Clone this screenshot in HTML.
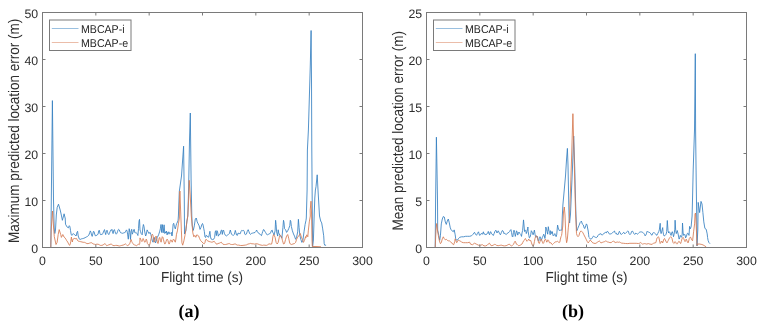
<!DOCTYPE html>
<html><head><meta charset="utf-8"><style>
html,body{margin:0;padding:0;background:#fff;width:761px;height:323px;overflow:hidden}
svg{display:block;will-change:transform}
text{font-family:"Liberation Sans",sans-serif;fill:#2e2e2e;text-rendering:geometricPrecision}
.tl{font-size:12.3px}
.al{font-size:13.55px}
.yl{font-size:13.5px}
.lg{font-size:10.6px;fill:#1e1e1e}
.sub{font-family:"Liberation Serif",serif;font-weight:bold;font-size:18px;fill:#000}
</style></head><body>
<svg width="761" height="323" viewBox="0 0 761 323">
<polyline points="50.8,247.5 51.3,200.0 52.4,100.6 53.5,200.0 54.2,228.0 54.8,233.5 55.5,230.0 56.3,215.0 57.2,207.4 58.5,204.2 60.2,210.0 61.1,214.0 62.4,220.3 64.1,213.8 65.1,218.0 65.2,218.0 65.5,224.2 66.5,226.0 67.4,227.3 68.3,227.9 69.3,225.7 69.9,226.7 70.5,230.4 71.1,234.1 71.7,235.3 72.7,234.7 73.3,233.5 74.2,234.4 75.1,235.0 76.1,236.0 77.0,232.2 77.6,231.3 78.2,236.0 78.6,237.0 79.2,238.9 80.1,239.5 81.3,238.9 82.6,238.6 83.8,238.3 85.1,237.7 86.3,237.0 87.5,236.4 88.8,235.2 89.7,232.7 90.3,230.9 90.9,232.1 91.6,235.2 92.2,236.4 92.8,234.0 93.4,231.5 94.0,231.5 94.7,234.0 95.3,235.8 96.2,235.5 97.1,235.2 98.1,234.0 98.7,230.9 99.3,230.2 99.9,233.3 100.5,234.6 101.8,234.3 102.0,234.6 102.9,233.3 103.9,230.8 104.5,229.6 105.1,232.4 105.7,234.6 106.3,231.8 107.0,230.2 107.6,232.4 108.2,233.9 108.8,234.6 109.4,233.3 110.0,231.8 110.7,230.2 111.3,230.5 111.9,229.3 112.5,231.8 113.1,233.6 113.8,230.2 114.4,229.6 115.0,231.5 115.6,233.3 116.2,234.2 116.9,233.3 117.5,231.8 118.1,229.9 118.7,229.3 119.3,229.9 120.0,231.8 120.6,232.7 121.5,233.0 122.4,233.3 123.4,233.0 124.3,232.7 125.2,232.4 125.8,231.1 126.5,229.9 127.1,231.1 127.7,234.9 128.3,239.2 128.9,232.4 129.2,228.7 129.9,232.4 130.5,239.5 131.1,231.1 131.7,229.3 132.3,234.2 133.0,232.4 133.6,229.9 134.2,229.3 134.8,232.4 135.4,233.0 136.1,232.4 136.7,233.3 137.3,234.2 137.9,235.5 138.5,228.7 139.0,221.2 139.5,219.4 140.0,229.9 140.6,231.7 141.2,233.6 142.2,234.8 142.8,228.0 143.4,224.5 144.0,226.5 144.6,231.0 145.6,236.0 146.2,234.8 147.1,229.9 148.0,231.7 149.0,233.6 149.9,232.3 150.8,234.2 151.8,238.5 152.4,241.0 153.0,242.2 153.6,240.4 154.2,237.3 154.9,240.4 155.5,242.9 156.1,241.6 156.7,239.1 157.3,237.3 158.0,236.0 158.6,234.8 159.2,233.0 159.8,231.1 160.4,228.5 161.0,224.5 161.7,232.5 162.4,224.6 163.2,232.8 164.1,224.8 164.8,233.5 165.3,231.8 165.9,233.0 166.5,231.1 167.1,234.9 167.8,232.4 168.4,231.8 169.0,234.2 169.6,232.4 170.6,233.3 171.5,232.4 171.6,235.4 172.2,236.0 172.6,231.0 173.1,224.5 173.7,223.3 174.4,226.4 175.3,228.9 176.2,225.1 176.8,223.3 177.5,222.0 178.1,220.2 178.4,216.0 179.3,191.5 181.5,176.0 183.6,146.2 184.3,200.0 184.5,234.0 185.9,230.9 186.9,221.0 187.8,216.0 188.6,190.0 189.5,140.0 190.3,113.0 191.1,180.0 191.8,216.0 192.3,225.9 193.3,230.4 194.3,225.9 195.3,219.0 196.3,218.0 197.2,221.9 198.2,223.9 199.2,225.9 200.0,229.4 200.9,227.6 201.9,224.5 202.5,223.5 203.1,225.1 203.7,228.2 204.3,231.3 205.0,236.9 205.6,237.5 206.2,235.3 206.8,235.6 207.7,236.9 208.7,237.2 209.3,234.4 209.9,231.3 210.5,236.9 211.1,239.0 212.4,239.6 213.6,239.3 214.6,237.5 215.2,231.9 215.8,230.7 216.4,235.6 217.0,230.7 217.6,231.9 218.3,236.2 219.2,234.4 220.1,234.4 221.1,230.4 221.7,230.0 222.3,234.4 222.9,230.7 223.5,230.0 224.5,233.8 225.4,235.3 226.6,235.9 227.6,235.0 228.5,234.4 229.4,233.5 230.3,230.0 231.0,232.5 231.6,234.4 232.5,235.0 233.4,235.3 234.4,234.4 235.3,230.4 235.9,232.5 236.5,235.0 237.5,235.3 238.0,233.1 239.2,233.5 240.2,233.8 241.1,231.3 241.7,230.4 242.6,230.7 243.6,230.4 244.2,231.3 244.8,234.1 245.4,234.7 246.4,234.1 247.3,231.3 248.2,229.7 248.8,231.3 249.8,233.8 250.4,234.4 251.3,233.5 252.6,233.1 253.8,232.8 255.0,232.5 256.0,231.3 256.6,230.0 257.2,231.3 258.1,232.8 259.1,233.5 260.0,234.1 260.9,235.3 261.5,235.6 262.1,233.5 262.8,231.3 263.4,229.7 264.0,229.7 264.6,231.0 265.6,232.5 266.5,234.1 267.4,235.0 268.3,234.4 269.3,233.8 270.2,233.5 270.8,232.2 271.4,230.7 272.1,230.0 272.7,232.2 273.6,233.8 274.0,235.1 275.1,230.8 275.6,220.3 276.1,224.5 276.6,231.9 277.7,236.1 278.2,229.8 278.7,232.9 279.8,235.1 280.8,236.6 281.9,238.2 282.9,227.7 283.5,220.3 284.0,222.4 284.5,228.7 285.6,229.8 286.6,232.4 287.7,230.8 288.7,228.7 289.8,225.6 290.3,220.3 290.8,221.4 291.4,226.6 292.4,230.8 293.5,234.0 294.5,236.1 295.6,239.3 296.6,237.2 297.7,231.9 298.4,219.3 299.1,227.7 299.8,235.1 300.8,239.3 301.9,242.4 302.9,240.3 304.0,231.9 305.1,224.5 306.0,220.3 306.3,218.0 307.1,190.0 307.4,150.0 308.4,130.0 310.3,65.0 311.1,30.5 311.5,80.0 311.8,150.0 312.2,200.0 312.6,246.5 313.4,240.0 314.2,215.0 314.8,198.0 315.4,190.0 316.0,186.7 317.2,174.8 318.3,195.0 319.5,216.0 320.7,221.0 321.7,222.9 322.7,228.9 323.7,235.8 324.2,243.7 324.7,245.2 326.1,245.2" fill="none" stroke="#3580c0" stroke-width="0.85" stroke-linejoin="round"/>
<polyline points="50.8,247.5 51.2,230.0 52.5,211.0 53.4,225.0 54.3,236.7 56.0,244.5 57.1,242.4 58.2,234.5 59.2,229.6 60.7,234.5 61.4,237.4 62.8,234.5 64.0,237.0 64.9,237.7 65.9,239.2 66.8,240.8 67.7,242.0 68.6,243.9 69.6,245.4 70.2,244.2 70.8,241.4 71.4,237.0 71.7,238.9 72.4,242.0 72.7,240.1 73.3,238.9 74.2,238.3 75.1,238.9 76.1,238.3 76.7,238.6 77.3,240.1 78.2,241.1 79.5,241.4 80.7,241.7 82.0,242.0 83.2,242.3 84.4,242.3 85.7,242.9 86.9,243.6 88.1,243.6 89.4,243.2 90.3,242.9 91.2,242.6 92.2,243.2 93.1,243.9 94.3,244.2 95.6,244.5 96.8,244.2 98.1,244.2 99.3,244.8 100.5,245.4 101.8,245.4 102.0,245.4 103.2,244.8 104.5,243.9 105.1,243.6 105.7,244.5 106.6,245.7 107.6,245.4 108.8,244.8 110.0,244.5 111.0,243.9 111.9,244.5 112.8,245.4 114.1,245.7 115.6,245.4 116.9,245.4 118.1,245.7 119.3,246.0 120.6,245.7 121.8,245.4 123.1,245.1 124.0,244.8 124.9,244.2 125.5,243.9 126.5,244.8 127.4,245.7 128.0,245.4 128.9,244.8 129.6,243.9 130.2,242.3 130.8,240.1 131.1,239.5 131.7,241.4 132.3,242.6 133.0,243.6 133.6,244.5 134.2,245.1 134.8,244.8 135.7,245.4 136.7,245.7 137.6,244.8 138.5,244.2 139.2,244.8 139.8,243.2 140.0,237.9 140.6,239.1 141.2,240.4 141.9,241.6 142.5,240.4 143.1,238.5 143.7,239.8 144.6,242.2 145.6,241.6 146.2,239.1 146.8,240.4 147.4,243.5 148.4,244.7 149.3,245.3 149.9,244.1 150.5,241.6 151.1,238.5 151.8,235.4 152.4,234.2 153.0,235.4 153.6,239.1 154.2,242.2 154.9,240.4 155.5,237.3 156.1,236.0 156.7,238.5 157.3,241.6 158.0,243.5 158.6,241.0 159.2,237.9 159.8,237.3 160.4,240.4 161.1,242.2 161.7,239.1 162.3,236.7 162.9,237.3 163.5,239.8 164.1,242.2 164.8,244.1 165.4,243.5 166.0,241.6 166.6,239.8 167.2,239.1 167.9,240.4 168.5,242.9 169.1,244.1 169.7,242.9 170.3,240.4 171.0,239.8 171.6,241.0 172.2,242.2 172.8,240.4 173.4,239.1 174.1,239.8 174.7,241.3 175.3,242.2 175.9,239.1 176.5,234.2 177.4,230.9 178.4,223.9 179.4,218.0 179.4,205.0 179.9,191.0 180.6,210.0 181.4,230.9 181.9,242.7 182.7,245.2 183.9,240.8 184.9,235.8 185.9,228.9 186.9,221.9 187.8,216.0 188.6,200.0 189.2,180.3 190.2,195.0 191.3,216.0 192.8,232.8 193.8,236.8 194.8,235.3 195.8,237.3 196.8,234.8 197.7,235.3 198.6,235.9 199.6,238.6 200.6,240.5 201.9,241.9 203.2,243.2 204.2,243.8 204.9,242.8 205.5,239.9 206.2,239.2 206.8,240.2 207.8,240.9 209.1,241.5 210.5,241.9 211.8,242.2 213.1,241.9 214.1,241.2 215.1,242.5 216.0,243.8 217.0,244.2 218.0,243.5 219.3,243.2 220.6,242.5 221.3,242.2 222.0,243.2 222.9,244.2 224.3,244.5 225.6,244.5 226.9,244.2 228.2,243.8 229.2,243.5 230.2,244.2 231.5,244.5 232.8,244.5 234.1,244.2 235.1,243.8 236.1,244.5 237.4,245.1 238.7,245.1 240.7,245.5 242.0,245.5 245.3,245.1 246.6,244.8 247.9,244.1 249.3,243.8 250.6,243.4 251.9,243.8 253.2,243.8 254.5,244.1 255.8,243.8 257.1,243.8 258.1,244.1 259.8,244.8 261.1,245.1 262.4,245.4 263.7,245.1 265.0,245.2 266.3,245.4 267.7,244.8 269.0,243.8 270.3,244.1 271.6,244.1 272.3,241.1 272.9,236.5 273.6,234.6 274.0,235.1 275.1,237.2 276.1,242.4 277.2,244.0 278.2,242.4 279.3,237.2 280.3,235.1 281.4,236.1 282.4,240.3 283.5,244.0 284.5,243.5 285.6,239.3 286.6,236.1 287.7,234.5 288.7,238.2 289.8,243.5 291.4,244.5 292.9,244.0 294.5,243.5 295.6,242.4 296.6,239.3 297.7,237.2 299.3,235.1 300.3,233.5 301.4,237.2 302.4,239.3 303.5,242.4 304.5,240.3 305.6,236.6 305.8,237.8 306.8,234.8 307.8,236.8 308.3,230.9 309.3,221.9 310.3,216.0 310.2,210.0 311.0,201.2 311.6,215.0 312.0,240.0 312.3,246.5 316.0,246.5 321.0,246.8" fill="none" stroke="#d67a52" stroke-width="0.85" stroke-linejoin="round"/>
<rect x="42.5" y="12.5" width="320.0" height="235.0" fill="none" stroke="#7a7a7a" stroke-width="1"/>
<text x="42.50" y="265" text-anchor="middle" class="tl">0</text>
<text x="95.83" y="265" text-anchor="middle" class="tl">50</text>
<text x="149.17" y="265" text-anchor="middle" class="tl">100</text>
<text x="202.50" y="265" text-anchor="middle" class="tl">150</text>
<text x="255.83" y="265" text-anchor="middle" class="tl">200</text>
<text x="309.17" y="265" text-anchor="middle" class="tl">250</text>
<text x="362.50" y="265" text-anchor="middle" class="tl">300</text>
<text x="38.20" y="252.60" text-anchor="end" class="tl">0</text>
<text x="38.20" y="205.60" text-anchor="end" class="tl">10</text>
<text x="38.20" y="158.60" text-anchor="end" class="tl">20</text>
<text x="38.20" y="111.60" text-anchor="end" class="tl">30</text>
<text x="38.20" y="64.60" text-anchor="end" class="tl">40</text>
<text x="38.20" y="17.60" text-anchor="end" class="tl">50</text>
<path d="M95.83 247.5v-3M95.83 12.5v3M149.17 247.5v-3M149.17 12.5v3M202.50 247.5v-3M202.50 12.5v3M255.83 247.5v-3M255.83 12.5v3M309.17 247.5v-3M309.17 12.5v3M42.5 200.50h3M362.5 200.50h-3M42.5 153.50h3M362.5 153.50h-3M42.5 106.50h3M362.5 106.50h-3M42.5 59.50h3M362.5 59.50h-3" stroke="#7a7a7a" stroke-width="1" fill="none"/>
<text transform="translate(202.00,282.3) scale(1,1.07)" text-anchor="middle" class="al">Flight time (s)</text>
<text transform="translate(18.60,130.80) rotate(-90) scale(1,1.13)" text-anchor="middle" class="yl">Maximum predicted location error (m)</text>
<text x="189.00" y="317.3" text-anchor="middle" class="sub">(a)</text>
<rect x="49.5" y="20" width="81.5" height="30.5" fill="#fff" stroke="#7a7a7a" stroke-width="1"/>
<line x1="51.8" y1="28.5" x2="78.5" y2="28.5" stroke="#3580c0" stroke-width="0.5"/>
<line x1="51.8" y1="42.5" x2="78.5" y2="42.5" stroke="#d67a52" stroke-width="0.5"/>
<text transform="translate(81.0,32.5) scale(1,1.07)" class="lg">MBCAP-i</text>
<text transform="translate(81.0,46.6) scale(1,1.07)" class="lg">MBCAP-e</text>
<polyline points="435.2,247.5 435.6,200.0 436.0,170.0 436.4,137.2 437.0,170.0 437.5,200.0 437.7,230.0 438.9,235.8 439.7,240.3 440.4,235.8 441.3,223.9 442.3,219.0 443.3,216.5 444.3,217.0 445.3,221.9 446.3,224.4 447.3,221.0 448.3,219.0 449.3,222.9 450.3,227.9 451.2,229.9 452.2,230.9 453.2,231.8 454.2,229.9 455.2,234.8 455.7,238.8 456.7,240.3 457.7,239.8 458.7,238.3 459.7,237.3 461.6,236.8 463.6,236.8 465.6,236.3 467.6,236.3 469.6,236.3 471.5,235.8 473.0,234.3 474.5,232.3 475.5,234.3 476.5,235.3 477.5,233.3 478.5,231.8 479.5,235.3 480.5,234.8 481.4,233.3 482.4,234.3 483.4,231.8 484.0,234.2 484.9,233.9 485.9,234.8 486.8,234.2 487.7,232.7 488.3,231.4 489.0,233.9 489.6,234.8 490.2,232.0 490.8,231.7 491.4,233.6 492.0,233.9 492.7,234.8 493.3,235.5 494.2,233.3 495.1,231.1 495.8,230.2 496.4,231.1 497.0,233.0 497.6,231.7 498.2,230.8 498.9,232.0 499.5,233.6 500.4,234.8 501.3,232.7 502.3,230.5 502.9,230.8 503.5,232.0 504.1,233.9 504.7,233.3 505.4,233.9 506.3,234.5 507.2,233.3 508.1,233.0 509.1,232.0 509.7,231.4 510.3,230.2 510.9,229.6 511.6,232.7 512.2,236.4 512.8,237.0 513.4,232.7 514.0,230.2 514.7,232.7 515.3,236.4 515.9,233.9 516.5,230.8 517.1,232.0 517.7,235.1 518.4,233.3 519.0,232.0 519.6,233.3 520.2,233.9 520.8,234.5 521.5,236.4 522.0,233.0 522.6,230.5 523.2,224.0 523.5,219.9 524.0,225.0 524.5,231.5 525.1,229.9 525.7,230.5 526.3,233.6 526.9,231.7 527.6,228.5 527.9,227.0 528.2,231.7 528.8,235.4 529.4,237.9 530.0,237.3 530.7,234.8 531.3,230.7 531.9,231.7 532.5,233.0 533.1,234.8 533.8,232.3 534.4,230.1 535.0,234.2 535.6,236.7 536.2,237.3 536.9,236.0 537.5,236.7 538.1,240.4 538.7,241.0 539.3,238.5 540.0,236.7 540.6,237.9 541.2,240.4 541.8,239.1 542.4,237.3 543.1,236.0 543.7,234.2 544.3,235.4 544.9,238.5 545.5,234.2 545.8,227.0 546.5,229.2 547.1,231.7 547.7,234.2 548.3,226.7 549.0,231.1 549.6,231.7 550.2,234.8 550.5,230.7 551.1,231.7 551.7,233.6 552.3,231.6 553.0,235.4 553.6,236.0 554.2,234.8 554.8,233.6 555.4,234.8 556.1,236.7 556.7,234.8 557.3,228.0 557.6,225.1 558.2,228.0 559.2,230.5 560.4,230.2 561.8,230.2 562.3,216.0 562.9,205.0 565.5,176.0 566.5,160.0 567.4,148.4 568.0,165.0 568.7,200.0 569.0,216.0 569.6,223.0 570.5,214.0 571.5,190.0 572.4,170.0 573.7,136.0 574.8,170.0 575.5,200.0 576.0,216.0 576.7,230.9 577.7,228.9 577.7,228.6 579.0,225.5 580.2,222.4 581.4,221.1 582.4,224.2 583.3,224.9 584.2,228.0 584.8,228.6 585.8,225.5 586.4,223.9 587.0,224.9 587.6,228.0 588.2,231.0 588.6,234.2 588.9,237.3 589.5,237.9 590.1,238.8 590.7,239.1 591.6,238.8 592.6,237.3 593.5,236.0 594.4,236.7 595.4,237.3 596.3,237.6 597.2,237.0 598.1,235.4 599.1,234.2 600.0,234.2 600.9,233.6 601.6,234.8 602.5,234.8 603.4,234.2 604.3,233.0 605.3,232.3 606.2,233.0 606.8,231.7 607.7,231.4 608.7,233.0 609.6,234.2 610.5,233.9 611.5,233.6 612.4,233.0 613.6,231.7 613.9,231.3 613.9,231.3 614.5,231.0 615.1,232.8 615.7,233.5 616.3,233.1 617.0,234.4 617.6,235.0 618.2,234.1 618.8,232.5 619.4,231.3 620.0,232.5 620.7,234.1 621.3,234.4 621.9,234.1 622.5,233.5 623.1,232.8 623.8,232.2 624.4,233.5 625.0,233.8 625.6,233.1 626.2,232.5 627.2,231.6 627.8,231.0 628.4,231.3 629.0,233.5 629.6,234.4 630.3,234.4 630.9,233.5 631.5,231.9 632.1,231.0 632.7,231.3 633.4,232.5 634.0,233.8 634.6,234.4 635.2,234.1 635.8,233.1 636.5,233.5 637.1,234.1 637.7,234.1 638.3,233.5 638.9,232.8 639.6,232.2 640.5,231.9 641.4,231.9 642.3,232.2 643.3,232.8 643.9,233.5 644.5,234.4 645.1,235.9 645.7,235.3 646.4,233.8 647.0,231.6 647.6,231.0 648.2,231.9 648.8,232.5 649.5,232.5 650.1,232.8 650.7,233.8 651.3,234.7 652.0,235.3 652.5,233.8 652.8,233.0 653.7,232.6 654.6,233.0 655.6,233.9 656.2,234.8 656.8,235.4 657.7,233.6 658.7,231.7 659.3,229.9 660.2,223.3 660.5,231.1 661.1,233.6 661.8,231.1 662.7,227.6 663.0,231.7 663.6,234.8 664.2,236.0 665.2,235.4 666.1,234.2 666.7,231.7 667.3,220.5 668.0,230.5 668.6,233.0 669.2,231.7 669.8,232.3 670.4,234.2 671.1,235.4 671.7,233.0 672.3,231.7 672.9,233.6 673.5,236.7 674.1,234.2 674.8,229.2 675.1,220.2 675.7,230.5 676.3,233.6 676.9,231.7 677.2,230.5 677.9,233.0 678.5,236.0 679.1,239.1 679.7,237.9 680.3,235.4 681.0,236.7 681.6,237.3 682.2,234.2 682.5,223.0 683.1,233.0 683.7,235.4 684.4,234.2 685.0,234.8 685.6,237.9 686.5,236.0 687.2,233.6 687.8,233.0 688.4,234.2 689.0,235.4 689.6,226.4 690.2,228.9 691.1,226.9 692.1,216.0 692.5,200.0 693.2,170.0 694.5,130.0 695.3,53.7 695.6,130.0 696.2,180.0 696.7,216.0 697.0,246.0 697.8,230.0 698.2,202.4 699.6,212.6 701.0,201.4 702.0,204.0 702.9,212.6 703.8,221.9 704.9,228.4 706.2,229.3 707.2,233.9 707.6,237.6 708.1,240.4 709.0,242.7 710.0,243.7" fill="none" stroke="#3580c0" stroke-width="0.85" stroke-linejoin="round"/>
<polyline points="435.2,247.5 436.0,230.0 436.7,223.5 437.4,230.0 438.4,235.8 439.4,240.8 440.4,243.7 441.3,242.7 442.3,238.8 443.3,236.8 444.3,238.8 445.3,239.8 446.3,239.3 447.3,240.3 448.3,240.8 449.3,240.8 450.3,241.7 451.7,242.7 452.7,244.2 453.7,244.7 454.7,241.7 455.2,238.8 455.7,240.3 456.7,242.7 457.7,240.8 458.7,240.3 459.7,240.8 460.7,241.2 461.6,242.2 463.6,242.7 465.6,242.7 467.6,242.7 469.6,242.2 470.6,244.2 472.5,244.7 474.5,243.2 476.5,244.2 478.5,245.2 480.5,245.2 482.4,244.7 484.0,245.9 485.6,245.9 487.2,245.2 488.2,244.1 489.3,243.1 490.1,244.1 490.8,245.4 491.9,245.7 493.2,245.2 494.5,244.4 495.6,244.6 496.6,245.4 498.2,245.7 499.8,245.4 500.8,245.2 501.9,245.2 502.9,245.7 504.5,245.9 506.1,245.7 507.2,245.2 508.2,244.6 509.3,244.1 510.3,245.2 511.4,245.9 512.4,245.4 513.5,244.4 514.3,242.5 515.1,241.2 515.6,242.0 516.4,244.1 517.2,244.4 517.9,245.2 518.7,245.7 519.8,245.4 520.8,244.9 521.9,244.1 522.0,244.1 522.9,242.2 523.9,240.4 524.8,239.5 525.4,238.5 526.0,239.8 527.0,241.3 527.9,240.4 528.8,239.1 529.4,240.4 530.0,241.0 530.7,240.4 531.3,242.2 531.9,244.1 532.5,245.3 533.1,246.0 533.8,244.7 534.4,241.6 535.0,238.5 535.6,236.7 536.2,235.7 536.9,236.0 537.5,237.9 538.1,240.4 538.7,242.9 539.3,243.5 540.0,241.6 540.6,239.8 541.2,239.1 541.8,240.4 542.4,242.2 543.1,243.5 543.7,242.9 544.3,241.0 544.9,239.8 545.5,239.1 546.1,240.4 546.8,242.2 547.4,241.0 548.0,239.8 548.6,240.4 549.2,242.2 549.9,243.2 550.5,242.6 551.1,242.9 551.7,244.1 552.3,244.7 553.0,244.1 553.6,243.5 554.2,242.9 554.8,242.2 555.4,241.9 556.1,241.9 556.7,241.6 557.3,241.3 557.9,241.6 558.5,242.2 559.2,242.6 559.8,242.2 560.4,239.1 561.0,236.7 561.6,235.4 561.8,233.8 562.8,225.9 563.5,212.0 564.3,207.0 565.0,215.0 565.8,235.8 566.6,242.7 567.3,239.8 568.3,227.9 569.5,216.0 570.5,190.0 571.5,160.0 572.9,113.7 574.2,160.0 575.2,200.0 575.7,216.0 576.5,233.6 577.1,235.4 578.0,236.7 579.0,235.4 579.9,232.3 580.8,231.1 581.7,231.4 582.7,232.3 583.6,234.2 584.5,236.0 585.5,237.9 586.4,239.8 587.3,241.6 588.2,242.9 589.2,241.6 590.1,240.1 591.0,240.7 592.0,242.2 592.9,242.9 593.8,243.2 595.1,243.5 596.0,243.2 596.9,242.6 597.8,241.9 598.8,241.3 599.4,241.0 600.0,241.6 600.9,242.9 601.9,242.6 602.8,242.2 603.7,241.9 604.7,241.6 605.6,241.0 606.5,241.3 607.4,241.9 608.7,242.2 609.9,242.6 611.2,242.6 612.4,241.6 613.6,241.0 614.1,241.7 615.2,242.5 616.2,242.3 617.3,242.0 618.3,242.3 619.4,242.0 620.4,242.5 621.5,243.1 623.6,243.3 625.7,243.5 627.8,243.6 629.9,243.3 632.0,243.3 634.1,243.3 636.2,243.3 638.3,243.5 639.9,243.1 640.7,242.5 641.5,243.3 642.5,244.1 643.6,243.8 644.6,243.6 645.7,243.8 646.7,244.1 648.3,243.6 649.9,244.1 652.0,244.4 652.2,244.1 653.7,243.2 655.0,242.9 655.9,242.6 656.5,239.8 657.1,237.9 657.7,237.3 658.4,236.7 659.0,237.9 659.6,241.0 660.2,243.5 660.8,242.9 661.5,241.0 662.1,241.6 662.7,242.9 663.3,241.0 663.9,239.1 664.6,238.5 665.2,239.8 665.8,241.0 666.4,242.2 667.0,242.9 667.6,241.6 668.3,240.4 668.9,239.1 669.5,237.9 670.1,237.3 670.7,236.7 671.4,237.3 672.0,238.5 672.6,241.0 673.2,242.9 673.8,243.5 674.5,242.9 675.1,241.6 675.7,242.2 676.3,243.5 676.9,244.1 677.6,243.5 678.2,242.2 678.8,241.3 679.4,241.6 680.0,242.9 680.7,243.5 681.3,241.6 681.9,239.1 682.5,237.9 683.1,237.3 683.7,238.5 684.4,240.4 685.0,241.6 685.6,241.0 686.2,239.1 686.8,240.4 687.5,242.2 688.1,242.9 688.7,241.0 689.3,238.5 690.0,237.3 690.7,237.3 691.6,239.8 692.6,240.8 693.6,231.8 694.6,223.9 695.0,214.0 695.5,213.0 696.2,225.0 696.8,240.0 697.0,245.5 697.4,244.1 699.3,244.0 701.1,244.3 703.0,244.9 704.9,246.0 706.2,246.9" fill="none" stroke="#d67a52" stroke-width="0.85" stroke-linejoin="round"/>
<rect x="426.5" y="12.5" width="320.0" height="235.0" fill="none" stroke="#7a7a7a" stroke-width="1"/>
<text x="426.50" y="265" text-anchor="middle" class="tl">0</text>
<text x="479.83" y="265" text-anchor="middle" class="tl">50</text>
<text x="533.17" y="265" text-anchor="middle" class="tl">100</text>
<text x="586.50" y="265" text-anchor="middle" class="tl">150</text>
<text x="639.83" y="265" text-anchor="middle" class="tl">200</text>
<text x="693.17" y="265" text-anchor="middle" class="tl">250</text>
<text x="746.50" y="265" text-anchor="middle" class="tl">300</text>
<text x="422.20" y="252.60" text-anchor="end" class="tl">0</text>
<text x="422.20" y="205.60" text-anchor="end" class="tl">5</text>
<text x="422.20" y="158.60" text-anchor="end" class="tl">10</text>
<text x="422.20" y="111.60" text-anchor="end" class="tl">15</text>
<text x="422.20" y="64.60" text-anchor="end" class="tl">20</text>
<text x="422.20" y="17.60" text-anchor="end" class="tl">25</text>
<path d="M479.83 247.5v-3M479.83 12.5v3M533.17 247.5v-3M533.17 12.5v3M586.50 247.5v-3M586.50 12.5v3M639.83 247.5v-3M639.83 12.5v3M693.17 247.5v-3M693.17 12.5v3M426.5 200.50h3M746.5 200.50h-3M426.5 153.50h3M746.5 153.50h-3M426.5 106.50h3M746.5 106.50h-3M426.5 59.50h3M746.5 59.50h-3" stroke="#7a7a7a" stroke-width="1" fill="none"/>
<text transform="translate(586.60,282.3) scale(1,1.07)" text-anchor="middle" class="al">Flight time (s)</text>
<text transform="translate(402.60,130.80) rotate(-90) scale(1,1.13)" text-anchor="middle" class="yl">Mean predicted location error (m)</text>
<text x="573.00" y="317.3" text-anchor="middle" class="sub">(b)</text>
<rect x="433.5" y="20" width="81.5" height="30.5" fill="#fff" stroke="#7a7a7a" stroke-width="1"/>
<line x1="435.8" y1="28.5" x2="462.5" y2="28.5" stroke="#3580c0" stroke-width="0.5"/>
<line x1="435.8" y1="42.5" x2="462.5" y2="42.5" stroke="#d67a52" stroke-width="0.5"/>
<text transform="translate(465.0,32.5) scale(1,1.07)" class="lg">MBCAP-i</text>
<text transform="translate(465.0,46.6) scale(1,1.07)" class="lg">MBCAP-e</text>
</svg>
</body></html>
